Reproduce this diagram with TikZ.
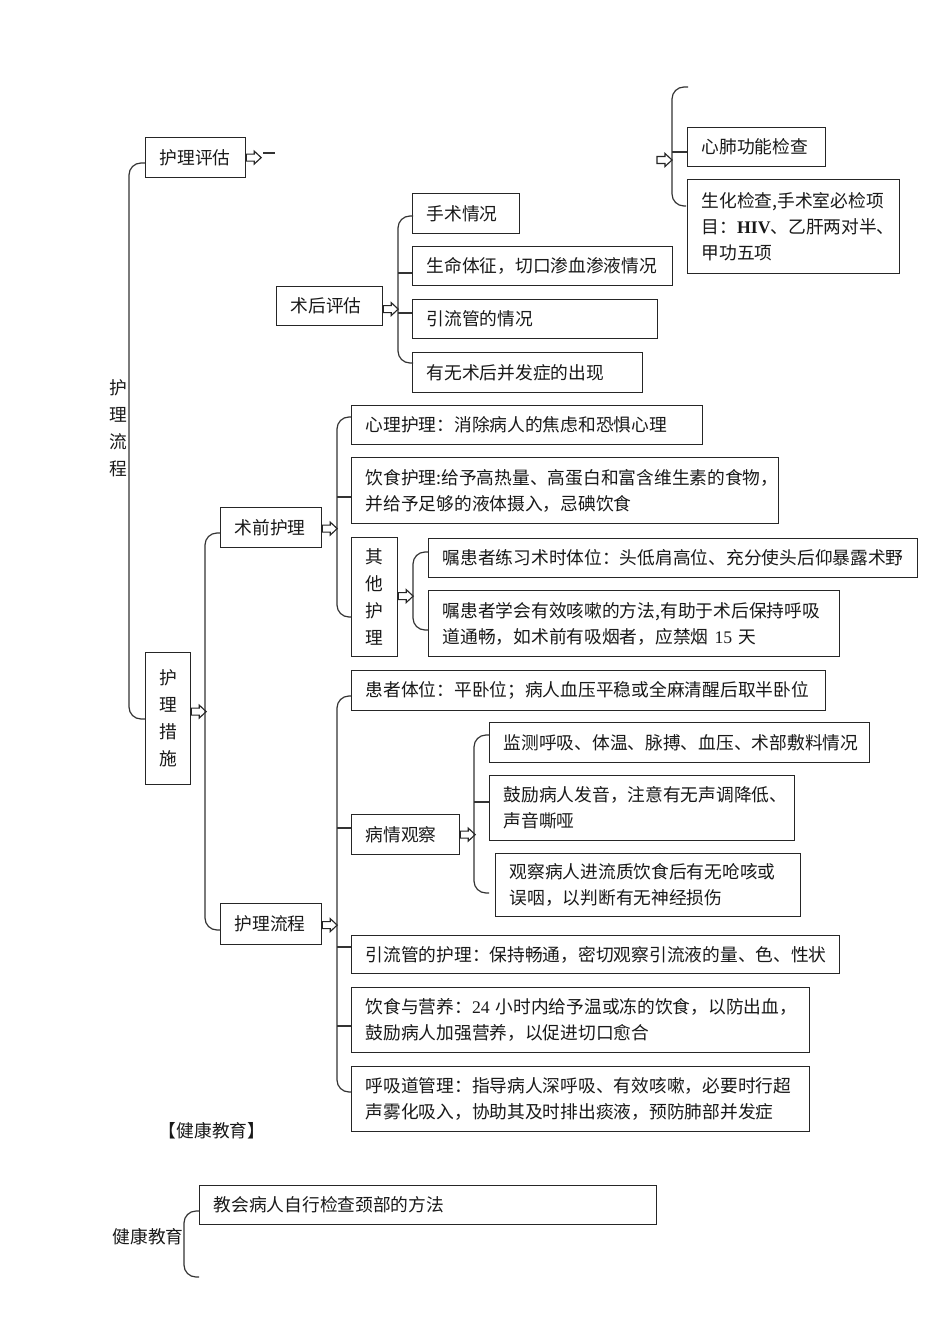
\documentclass[tikz,border=0pt]{standalone}
\usepackage{fontspec}
\setmainfont{Noto Sans CJK SC}
\newfontfamily\lat{Liberation Serif}
\usetikzlibrary{calc}
\tikzset{
  box/.style={draw=black!85, line width=0.9pt, inner xsep=10.5pt, inner ysep=0pt,
    align=left, font=\fontsize{13.3}{19.5}\selectfont, text=black!90},
  vbox/.style={draw=black!85, line width=0.9pt, inner sep=0pt, align=center,
    font=\fontsize{13.3}{20.25}\selectfont, text=black!90},
  plain/.style={inner sep=0pt, align=center, font=\fontsize{13.3}{20.25}\selectfont, text=black!90},
  brk/.style={draw=black!80, line width=0.9pt, rounded corners=9pt},
  lnk/.style={draw=black!80, line width=0.9pt},
  harrow/.pic={\draw[line width=0.85pt, fill=white, draw=black!85] (0,-3.5) -- (8,-3.5) -- (8,-6.5) -- (15,0) -- (8,6.5) -- (8,3.5) -- (0,3.5) -- cycle;}
}
% box: name, x1, y1, x2, y2, text (pixel coordinates)
\newcommand\bx[6]{%
  \pgfmathsetlengthmacro\bxw{(#4-#2)*0.75pt}%
  \pgfmathsetlengthmacro\bxh{(#5-#3)*0.75pt}%
  \pgfmathsetlengthmacro\bxt{(#4-#2-28)*0.75pt}%
  \node[box, anchor=north west, minimum width=\bxw, minimum height=\bxh, text width=\bxt] (#1) at (#2,#3) {#6};}
\newcommand\vbx[6]{%
  \pgfmathsetlengthmacro\bxw{(#4-#2)*0.75pt}%
  \pgfmathsetlengthmacro\bxh{(#5-#3)*0.75pt}%
  \node[vbox, anchor=north west, minimum width=\bxw, minimum height=\bxh] (#1) at (#2,#3) {#6};}
\begin{document}
\begin{tikzpicture}[x=0.75pt, y=-0.75pt]
\fill[white] (0,0) rectangle (950,1344);
\useasboundingbox (0,0) rectangle (950,1344);

% ---------- top: 护理评估 ----------
\bx{pgj}{145}{137}{245}{177}{护理评估}
\pic at (pgj.east) {harrow};
\coordinate (ds1) at (263,153);
\coordinate (ds2) at (275,153);
\draw[lnk] (ds1) -- (ds2);

% top-right bracket
\bx{xf}{687}{127}{825}{166}{心肺功能检查}
\bx{sh}{687}{179}{899}{273}{生化检查,手术室必检项\\目：{\lat\bfseries HIV}、乙肝两对半、\\甲功五项}
\coordinate (trt) at (688,87);
\coordinate (trb) at (686,206);
\coordinate (trm) at (672,152);
\draw[brk] (trt) -- ++(-16,0) -- ($(trb)+(-14,0)$) -- (trb);
\draw[lnk] (trm) -- (trm -| xf.west);
\pic at (657,160) {harrow};

% ---------- 术后评估 ----------
\bx{shpg}{276}{286}{382}{325}{术后评估}
\pic at ($(shpg.east)+(0,3)$) {harrow};
\bx{a1}{412}{193}{519}{233}{手术情况}
\bx{a2}{412}{246}{672}{285}{生命体征，切口渗血渗液情况}
\bx{a3}{412}{299}{657}{338}{引流管的情况}
\bx{a4}{412}{352}{642}{392}{有无术后并发症的出现}
\coordinate (at) at (413,216);
\coordinate (ab) at (413,363);
\coordinate (am1) at (398,273);
\coordinate (am2) at (398,313);
\draw[brk] (at) -- ++(-15,0) -- ($(ab)+(-15,0)$) -- (ab);
\draw[lnk] (am1) -- (am1 -| a2.west);
\draw[lnk] (am2) -- (am2 -| a3.west);

% ---------- main left bracket ----------
\node[plain] (hllc) at (118,428) {护\\理\\流\\程};
\vbx{hlcs}{145}{652}{190}{784}{护\\理\\措\\施}
\coordinate (mt) at (145,163);
\coordinate (mb) at (145,719);
\draw[brk] (mt) -- ++(-16,0) -- ($(mb)+(-16,0)$) -- (mb);
\pic at ($(hlcs.east)+(0,-7)$) {harrow};

% bracket of 护理措施
\bx{sqhl}{220}{507}{321}{547}{术前护理}
\bx{hllc2}{220}{903}{321}{944}{护理流程}
\coordinate (ct) at (220,533);
\coordinate (cb) at (220,930);
\draw[brk] (ct) -- ++(-15,0) -- ($(cb)+(-15,0)$) -- (cb);

% ---------- 术前护理 ----------
\pic at ($(sqhl.east)+(0,1)$) {harrow};
\bx{b1}{351}{405}{702}{444}{心理护理：消除病人的焦虑和恐惧心理}
\bx{b2}{351}{457}{778}{523}{饮食护理:给予高热量、高蛋白和富含维生素的食物，\\并给予足够的液体摄入，忌碘饮食}
\vbx{b3}{351}{537}{397}{656}{其\\他\\护\\理}
\coordinate (bt) at (351,417);
\coordinate (bb) at (351,617);
\coordinate (bm) at (337,497);
\draw[brk] (bt) -- ++(-14,0) -- ($(bb)+(-14,0)$) -- (bb);
\draw[lnk] (bm) -- (bm -| b2.west);

\pic at ($(b3.east)+(0,-1)$) {harrow};
\bx{c1}{428}{538}{917}{577}{嘱患者练习术时体位：头低肩高位、充分使头后仰暴露术野}
\bx{c2}{428}{590}{839}{656}{嘱患者学会有效咳嗽的方法,有助于术后保持呼吸\\道通畅，如术前有吸烟者，应禁烟~{\lat 15}~天}
\coordinate (cct) at (428,552);
\coordinate (ccb) at (428,630);
\draw[brk] (cct) -- ++(-15,0) -- ($(ccb)+(-15,0)$) -- (ccb);

% ---------- 护理流程 ----------
\pic at ($(hllc2.east)+(0,1)$) {harrow};
\bx{d1}{351}{670}{825}{710}{患者体位：平卧位；病人血压平稳或全麻清醒后取半卧位}
\bx{d2}{351}{814}{459}{854}{病情观察}
\bx{d3}{351}{935}{839}{973}{引流管的护理：保持畅通，密切观察引流液的量、色、性状}
\bx{d4}{351}{987}{809}{1052}{饮食与营养：{\lat 24}~小时内给予温或冻的饮食，以防出血，\\鼓励病人加强营养，以促进切口愈合}
\bx{d5}{351}{1066}{809}{1131}{呼吸道管理：指导病人深呼吸、有效咳嗽，必要时行超\\声雾化吸入，协助其及时排出痰液，预防肺部并发症}
\coordinate (dt) at (351,696);
\coordinate (db) at (351,1092);
\coordinate (dm1) at (337,828);
\coordinate (dm2) at (337,947);
\coordinate (dm3) at (337,1026);
\draw[brk] (dt) -- ++(-14,0) -- ($(db)+(-14,0)$) -- (db);
\draw[lnk] (dm1) -- (dm1 -| d2.west);
\draw[lnk] (dm2) -- (dm2 -| d3.west);
\draw[lnk] (dm3) -- (dm3 -| d4.west);

% 病情观察 children
\pic at (d2.east) {harrow};
\bx{e1}{489}{722}{869}{762}{监测呼吸、体温、脉搏、血压、术部敷料情况}
\bx{e2}{489}{775}{794}{840}{鼓励病人发音，注意有无声调降低、\\声音嘶哑}
\bx{e3}{495}{853}{800}{916}{观察病人进流质饮食后有无呛咳或\\误咽，以判断有无神经损伤}
\coordinate (et) at (489,735);
\coordinate (eb) at (489,893);
\coordinate (em) at (474,802);
\draw[brk] (et) -- ++(-15,0) -- ($(eb)+(-15,0)$) -- (eb);
\draw[lnk] (em) -- (em -| e2.west);

% ---------- 健康教育 ----------
\node[plain] (jkh) at (212,1131) {【健康教育】};
\node[plain] (jkt) at (148,1237) {健康教育};
\bx{f1}{199}{1185}{656}{1224}{教会病人自行检查颈部的方法}
\coordinate (ft) at (199,1211);
\coordinate (fb) at (199,1277);
\draw[brk] (ft) -- ++(-15,0) -- ($(fb)+(-15,0)$) -- (fb);
\end{tikzpicture}
\end{document}
